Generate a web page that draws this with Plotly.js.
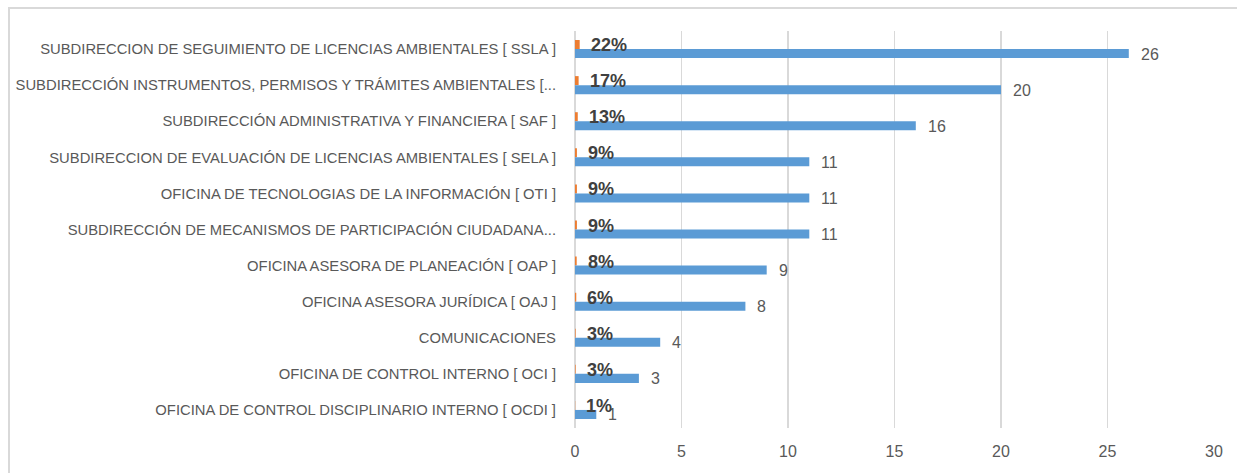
<!DOCTYPE html>
<html>
<head>
<meta charset="utf-8">
<script src="https://cdn.plot.ly/plotly-3.0.1.min.js"></script>
<style>
html,body{margin:0;padding:0;background:#fff;}
#wrap{position:relative;width:1237px;height:473px;overflow:hidden;}
#frame{position:absolute;left:8px;top:7px;width:1240px;height:480px;border-left:2px solid #d9d9d9;border-top:2px solid #d9d9d9;box-sizing:border-box;pointer-events:none;z-index:5;}
#chart{position:absolute;left:0;top:0;width:1237px;height:473px;}
</style>
</head>
<body>
<div id="wrap"><div id="chart"></div><div id="frame"></div></div>
<script>
const categories = [
  "SUBDIRECCION DE SEGUIMIENTO DE LICENCIAS AMBIENTALES [ SSLA ]",
  "SUBDIRECCIÓN INSTRUMENTOS, PERMISOS Y TRÁMITES AMBIENTALES [...",
  "SUBDIRECCIÓN ADMINISTRATIVA Y FINANCIERA [ SAF ]",
  "SUBDIRECCION DE EVALUACIÓN DE LICENCIAS AMBIENTALES [ SELA ]",
  "OFICINA DE TECNOLOGIAS DE LA INFORMACIÓN [ OTI ]",
  "SUBDIRECCIÓN DE MECANISMOS DE PARTICIPACIÓN CIUDADANA...",
  "OFICINA ASESORA DE PLANEACIÓN [ OAP ]",
  "OFICINA ASESORA JURÍDICA [ OAJ ]",
  "COMUNICACIONES",
  "OFICINA DE CONTROL INTERNO [ OCI ]",
  "OFICINA DE CONTROL DISCIPLINARIO INTERNO [ OCDI ]"
];
const counts = [26, 20, 16, 11, 11, 11, 9, 8, 4, 3, 1];
const percents = [0.22, 0.17, 0.13, 0.09, 0.09, 0.09, 0.08, 0.06, 0.03, 0.03, 0.01];
const percentLabels = ["22%", "17%", "13%", "9%", "9%", "9%", "8%", "6%", "3%", "3%", "1%"];
const xTicks = [0, 5, 10, 15, 20, 25, 30];

const baseFont = "Liberation Sans, Arial, sans-serif";

const traces = [
  {
    type: "bar", orientation: "h", name: "Porcentaje",
    y: categories, x: percents,
    marker: {color: "#ed7d31"},
    hoverinfo: "skip"
  },
  {
    type: "bar", orientation: "h", name: "Cantidad",
    y: categories, x: counts,
    marker: {color: "#5b9bd5"},
    hoverinfo: "skip"
  }
];

const annotations = [];
counts.forEach((v, i) => {
  annotations.push({
    x: v, y: categories[i], xref: "x", yref: "y",
    text: String(v), showarrow: false, xanchor: "left", yanchor: "middle",
    xshift: 10, yshift: -5,
    font: {family: baseFont, size: 16, color: "#595959"}
  });
});
percents.forEach((v, i) => {
  annotations.push({
    x: v, y: categories[i], xref: "x", yref: "y",
    text: "<b>" + percentLabels[i] + "</b>", showarrow: false, xanchor: "left", yanchor: "middle",
    xshift: 9, yshift: 4,
    font: {family: baseFont, size: 18, color: "#404040"}
  });
});

const layout = {
  width: 1237, height: 473,
  margin: {l: 575, r: 23, t: 31, b: 45, pad: 0},
  paper_bgcolor: "#ffffff", plot_bgcolor: "#ffffff",
  showlegend: false,
  barmode: "group",
  bargap: 0.5, bargroupgap: 0,
  xaxis: {
    range: [0, 30], tickvals: xTicks, ticktext: xTicks.map(String),
    showgrid: true, gridcolor: "#d9d9d9", gridwidth: 1.5,
    zeroline: true, zerolinecolor: "#d9d9d9", zerolinewidth: 1.5,
    showline: false, ticks: "", fixedrange: true,
    ticklabelstandoff: 12,
    tickfont: {family: baseFont, size: 16, color: "#595959"}
  },
  yaxis: {
    type: "category", autorange: "reversed",
    showgrid: false, zeroline: false, showline: false, ticks: "",
    ticklabelstandoff: 18,
    tickfont: {family: baseFont, size: 14.8, color: "#595959"}
  },
  annotations: annotations
};

Plotly.newPlot("chart", traces, layout, {displayModeBar: false, staticPlot: true});
</script>
</body>
</html>
